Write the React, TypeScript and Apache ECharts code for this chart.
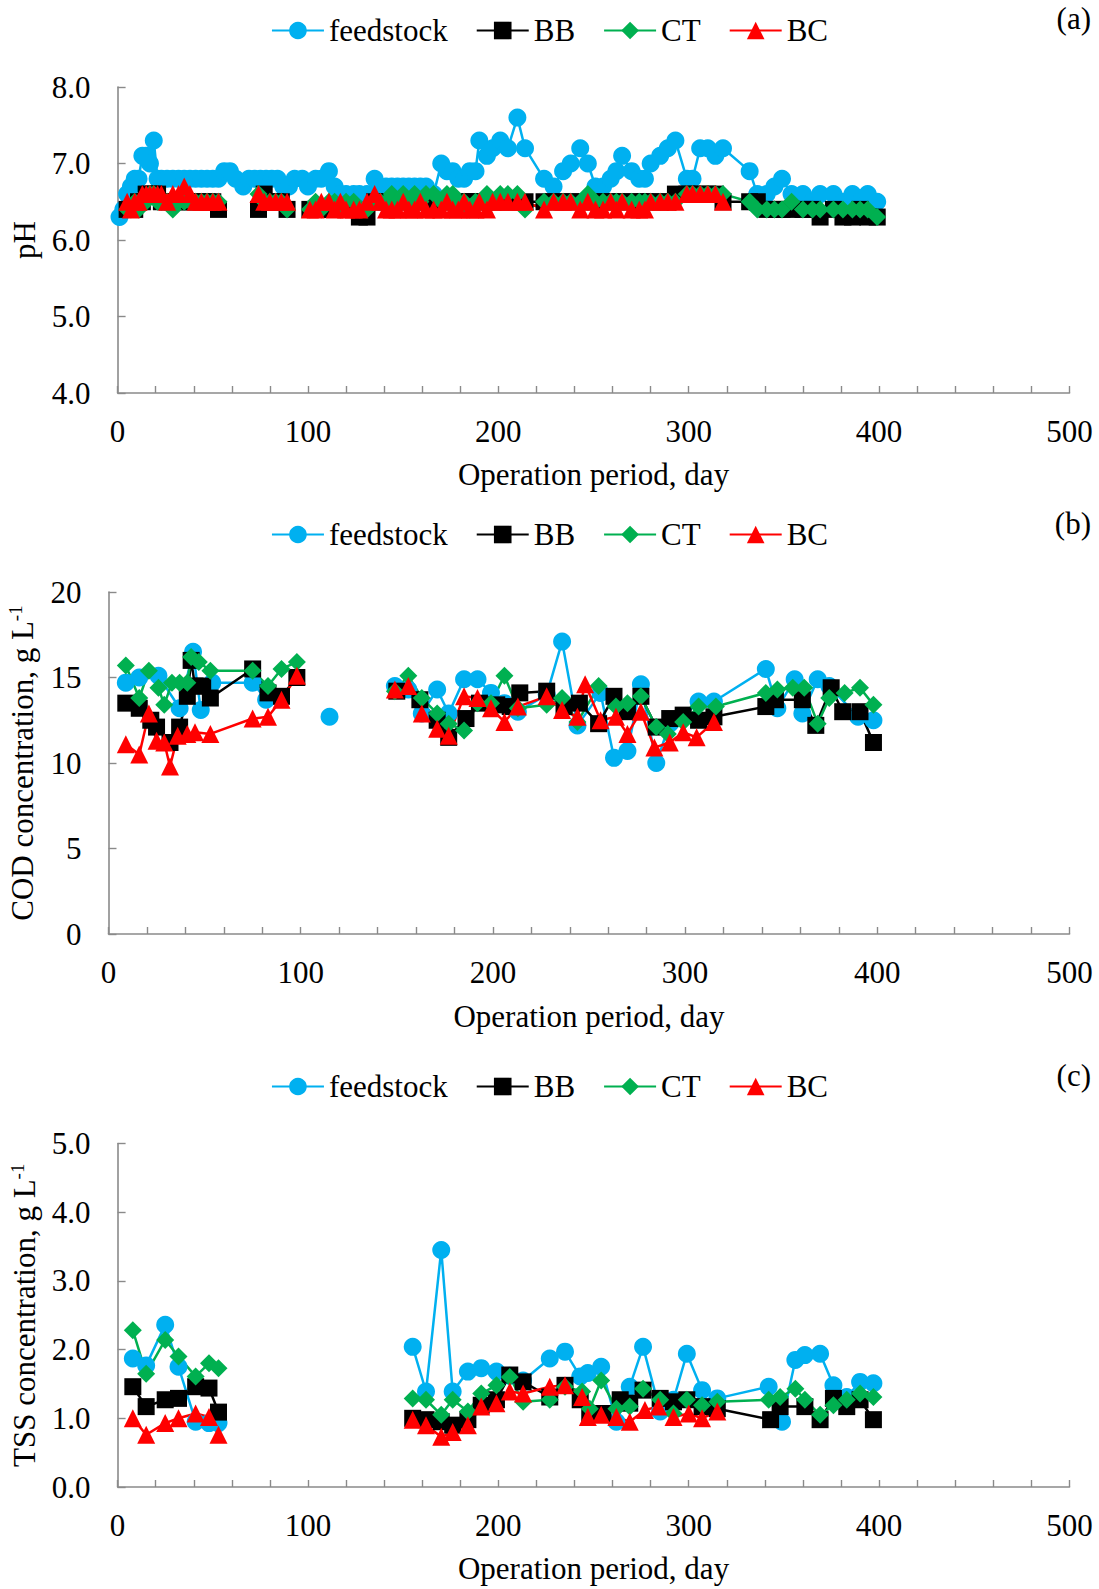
import React, { useEffect, useRef } from 'react';
import * as echarts from 'echarts';

// ---------- DATA ----------
const seriesNames = ['feedstock', 'BB', 'CT', 'BC'];
const xTicks = [0, 100, 200, 300, 400, 500];

// (a) pH  — [day, value]; null = break in line
const phFeed = [[1,6.3],[3,6.4],[5,6.6],[7,6.7],[9,6.8],[11,6.8],[13,7.1],[15,7.1],[17,7.0],[19,7.3],[21,6.8],[23,6.8],[26,6.8],[29,6.8],[32,6.8],[35,6.8],[38,6.8],[41,6.8],[44,6.8],[47,6.8],[50,6.8],[53,6.8],[56,6.9],[59,6.9],[62,6.8],[66,6.7],[69,6.8],[72,6.8],[75,6.8],[78,6.8],[81,6.8],[84,6.8],[87,6.7],[90,6.7],[93,6.8],[97,6.8],[100,6.7],[104,6.8],[107,6.8],[111,6.9],[114,6.7],[117,6.6],[120,6.6],[124,6.6],[127,6.6],[131,6.6],[135,6.8],[138,6.7],[141,6.7],[144,6.7],[147,6.7],[150,6.7],[153,6.7],[156,6.7],[159,6.7],[162,6.7],[166,6.6],[170,7.0],[173,6.9],[176,6.9],[179,6.8],[182,6.8],[185,6.9],[188,6.9],[190,7.3],[194,7.1],[197,7.2],[201,7.3],[205,7.2],[210,7.6],[214,7.2],[224,6.8],[229,6.7],[234,6.9],[238,7.0],[243,7.2],[247,7.0],[251,6.7],[255,6.7],[259,6.8],[262,6.9],[265,7.1],[270,6.9],[274,6.8],[277,6.8],[280,7.0],[285,7.1],[289,7.2],[293,7.3],[299,6.8],[302,6.8],[306,7.2],[310,7.2],[314,7.1],[318,7.2],[332,6.9],[336,6.6],[341,6.6],[345,6.7],[349,6.8],[354,6.6],[360,6.6],[365,6.5],[369,6.6],[376,6.6],[381,6.5],[386,6.6],[390,6.5],[394,6.6],[399,6.5]];
const phBB = [[5,6.4],[7,6.4],[9,6.4],[11,6.5],[13,6.5],[15,6.6],[17,6.6],[19,6.6],[21,6.6],[23,6.5],[26,6.5],[29,6.5],[32,6.5],[35,6.5],[38,6.5],[41,6.5],[44,6.5],[47,6.5],[50,6.5],[53,6.4],[60,null],[74,6.4],[77,6.6],[80,6.5],[83,6.5],[86,6.5],[89,6.4],[95,null],[101,6.4],[104,6.4],[107,6.4],[111,6.4],[114,6.4],[117,6.4],[120,6.4],[124,6.4],[127,6.3],[131,6.3],[135,6.5],[138,6.5],[141,6.5],[144,6.5],[147,6.5],[150,6.5],[153,6.5],[156,6.5],[159,6.5],[162,6.5],[166,6.5],[170,6.5],[173,6.5],[176,6.5],[179,6.5],[182,6.5],[185,6.5],[188,6.5],[190,6.5],[194,6.5],[197,6.5],[201,6.5],[205,6.5],[210,6.5],[214,6.5],[224,6.5],[229,6.5],[234,6.5],[238,6.5],[243,6.5],[247,6.5],[251,6.5],[255,6.5],[259,6.5],[262,6.5],[265,6.5],[270,6.5],[274,6.5],[277,6.5],[280,6.5],[285,6.5],[289,6.5],[293,6.6],[299,6.6],[302,6.6],[306,6.6],[310,6.6],[314,6.6],[318,6.5],[332,6.5],[336,6.5],[341,6.4],[345,6.4],[349,6.4],[354,6.4],[360,6.4],[365,6.4],[369,6.3],[376,6.4],[381,6.3],[386,6.3],[390,6.4],[394,6.3],[399,6.3]];
const phCT = [[5,6.4],[7,6.4],[9,6.5],[11,6.4],[13,6.5],[15,6.5],[17,6.6],[19,6.6],[21,6.5],[23,6.5],[26,6.5],[29,6.4],[32,6.5],[35,6.5],[38,6.5],[41,6.5],[44,6.5],[47,6.5],[50,6.5],[53,6.5],[60,null],[74,6.6],[77,6.5],[80,6.5],[83,6.5],[86,6.5],[89,6.4],[95,null],[101,6.4],[104,6.5],[107,6.4],[111,6.5],[114,6.5],[117,6.4],[120,6.5],[124,6.5],[127,6.4],[131,6.4],[135,6.5],[138,6.5],[141,6.5],[144,6.6],[147,6.5],[150,6.6],[153,6.5],[156,6.6],[159,6.5],[162,6.6],[166,6.6],[170,6.5],[173,6.6],[176,6.6],[179,6.5],[182,6.5],[185,6.4],[188,6.5],[190,6.5],[194,6.6],[197,6.5],[201,6.6],[205,6.6],[210,6.6],[214,6.4],[224,6.5],[229,6.5],[234,6.5],[238,6.5],[243,6.5],[247,6.6],[251,6.5],[255,6.5],[259,6.5],[262,6.5],[265,6.5],[270,6.5],[274,6.5],[277,6.5],[280,6.5],[285,6.5],[289,6.5],[293,6.5],[299,6.6],[302,6.6],[306,6.6],[310,6.6],[314,6.6],[318,6.6],[332,6.5],[336,6.4],[341,6.4],[345,6.4],[349,6.4],[354,6.5],[360,6.4],[365,6.4],[369,6.4],[376,6.4],[381,6.4],[386,6.4],[390,6.4],[394,6.4],[399,6.3]];
const phBC = [[5,6.5],[7,6.4],[9,6.5],[11,6.5],[13,6.6],[15,6.6],[17,6.6],[19,6.6],[21,6.6],[23,6.6],[26,6.5],[29,6.6],[32,6.6],[35,6.7],[38,6.6],[41,6.5],[44,6.5],[47,6.5],[50,6.5],[53,6.5],[60,null],[74,6.6],[77,6.5],[80,6.5],[83,6.5],[86,6.5],[89,6.5],[95,null],[101,6.4],[104,6.4],[107,6.5],[111,6.5],[114,6.4],[117,6.5],[120,6.4],[124,6.4],[127,6.4],[131,6.5],[135,6.6],[138,6.5],[141,6.4],[144,6.4],[147,6.4],[150,6.5],[153,6.4],[156,6.4],[159,6.5],[162,6.4],[166,6.4],[170,6.4],[173,6.5],[176,6.4],[179,6.4],[182,6.5],[185,6.4],[188,6.4],[190,6.5],[194,6.4],[197,6.5],[201,6.5],[205,6.5],[210,6.5],[214,6.5],[224,6.4],[229,6.5],[234,6.5],[238,6.5],[243,6.4],[247,6.5],[251,6.4],[255,6.4],[259,6.5],[262,6.4],[265,6.5],[270,6.4],[274,6.4],[277,6.4],[280,6.5],[285,6.5],[289,6.5],[293,6.5],[299,6.6],[302,6.6],[306,6.6],[310,6.6],[314,6.6],[318,6.5]];

// (b) COD, g/L
const codFeed = [[9,14.7],[16,15.0],[26,15.1],[37,13.2],[44,16.5],[48,13.1],[54,14.7],[75,14.7],[82,13.7],[100,null],[115,12.7],[130,null],[149,14.5],[156,14.3],[163,12.9],[171,14.3],[177,12.9],[185,14.9],[192,14.9],[199,14.1],[206,13.5],[213,13.0],[228,14.0],[236,17.1],[244,12.2],[256,14.1],[263,10.3],[270,10.7],[277,14.6],[285,10.0],[292,12.3],[299,12.7],[307,13.6],[315,13.6],[342,15.5],[348,13.2],[357,14.9],[361,12.9],[369,14.9],[375,14.5],[390,12.7],[398,12.5]];
const codBB = [[9,13.5],[16,13.2],[22,12.5],[25,12.1],[32,11.2],[37,12.1],[41,13.9],[43,16.0],[45,14.5],[49,14.5],[53,13.8],[75,15.5],[83,14.1],[90,13.9],[98,15.0],[120,null],[150,14.2],[162,13.7],[171,12.5],[177,11.5],[186,12.6],[193,13.5],[202,13.4],[209,13.3],[214,14.1],[228,14.2],[237,13.3],[245,13.5],[255,12.3],[263,13.9],[270,13.0],[277,13.9],[285,12.1],[292,12.6],[299,12.8],[307,12.5],[315,12.7],[342,13.3],[347,13.7],[361,13.7],[368,12.2],[376,14.4],[382,13.0],[391,13.0],[398,11.2]];
const codCT = [[9,15.7],[16,13.8],[21,15.4],[26,14.4],[29,13.4],[33,14.7],[37,14.7],[41,14.7],[43,16.2],[47,15.9],[53,15.4],[75,15.4],[83,14.5],[90,15.5],[98,15.9],[120,null],[149,14.2],[156,15.1],[163,13.8],[171,12.9],[177,12.3],[185,11.9],[192,13.5],[199,13.5],[206,15.1],[213,13.2],[228,13.4],[236,13.8],[244,12.4],[255,14.5],[264,13.3],[270,13.5],[277,13.9],[285,12.1],[291,11.7],[299,12.4],[307,13.3],[316,13.3],[342,14.1],[348,14.3],[356,14.4],[362,14.4],[369,12.3],[375,13.8],[383,14.1],[391,14.4],[398,13.4]];
const codBC = [[9,11.1],[16,10.5],[21,12.9],[25,11.3],[29,11.2],[32,9.8],[36,11.6],[41,11.7],[45,11.8],[53,11.7],[75,12.6],[83,12.7],[90,13.7],[98,15.1],[120,null],[149,14.3],[156,14.5],[163,12.9],[171,12.0],[177,11.6],[185,13.9],[192,13.8],[199,13.2],[206,12.4],[213,13.3],[228,13.9],[236,13.1],[244,12.7],[248,14.6],[256,12.5],[264,12.7],[270,11.7],[277,13.0],[284,10.9],[292,11.2],[299,11.8],[306,11.5],[315,12.4]];

// (c) TSS, g/L
const tssFeed = [[8,1.87],[15,1.77],[25,2.36],[32,1.75],[41,0.95],[48,0.93],[53,0.93],[100,null],[155,2.04],[162,1.39],[170,3.45],[176,1.39],[184,1.68],[191,1.73],[199,1.68],[206,1.62],[213,1.55],[227,1.87],[235,1.97],[243,1.61],[247,1.66],[254,1.75],[262,0.95],[269,1.46],[276,2.04],[285,1.10],[292,1.27],[299,1.94],[307,1.41],[315,1.29],[342,1.46],[349,0.95],[356,1.85],[361,1.92],[369,1.94],[376,1.48],[383,1.31],[390,1.53],[397,1.51]];
const tssBB = [[8,1.46],[15,1.17],[25,1.27],[32,1.29],[41,1.46],[48,1.44],[53,1.09],[100,null],[155,1.0],[162,0.98],[170,0.95],[176,0.9],[184,0.98],[191,1.19],[199,1.27],[206,1.63],[213,1.53],[227,1.31],[235,1.48],[243,1.27],[248,1.07],[255,1.07],[264,1.27],[269,1.22],[276,1.41],[285,1.29],[292,1.24],[299,1.27],[307,1.17],[315,1.14],[343,0.98],[348,1.17],[361,1.17],[369,0.98],[376,1.29],[383,1.17],[390,1.27],[397,0.98]];
const tssCT = [[8,2.28],[15,1.65],[25,2.14],[32,1.90],[41,1.61],[48,1.80],[53,1.73],[100,null],[155,1.29],[162,1.27],[170,1.05],[176,1.27],[184,1.10],[191,1.36],[199,1.48],[206,1.60],[213,1.24],[227,1.27],[235,1.46],[244,1.39],[248,1.14],[254,1.55],[262,1.14],[269,1.17],[276,1.43],[285,1.27],[292,1.07],[299,1.27],[307,1.19],[315,1.24],[342,1.27],[348,1.31],[356,1.43],[361,1.27],[369,1.05],[376,1.19],[383,1.27],[390,1.36],[397,1.31]];
const tssBC = [[8,1.0],[15,0.76],[25,0.93],[32,1.0],[41,1.07],[48,1.02],[53,0.76],[100,null],[155,0.98],[162,0.90],[170,0.73],[176,0.80],[184,0.90],[191,1.17],[199,1.22],[206,1.39],[213,1.36],[227,1.46],[235,1.48],[244,1.31],[247,1.02],[254,1.05],[262,1.02],[269,0.95],[277,1.12],[284,1.17],[292,1.02],[300,1.07],[307,1.0],[315,1.10]];

// ---------- STYLE ----------
const FONT = '"Liberation Serif", "Times New Roman", serif';
const FS = 31;
const AX = '#8a8a8a';
const COLORS = ['#00B0F0', '#000000', '#00B050', '#FF0000'];
const SYMBOLS = ['circle', 'rect', 'diamond', 'triangle'];
const SIZES = [18, 17, 18, 18];

const fix = (arr: any[]) => arr.map(([d, v]) => [d, v === null ? '-' : v]);

export default function App() {
  const ref = useRef<HTMLDivElement>(null);
  useEffect(() => {
    if (!ref.current) return;
    const chart = echarts.init(ref.current, null, { renderer: 'svg' });

    const grids = [
      { left: 117.6, right: 29.5, top: 87, height: 306 },
      { left: 108.5, right: 29.5, top: 592, height: 342 },
      { left: 117.6, right: 29.5, top: 1143.5, height: 343.5 },
    ].map((g) => ({ ...g, containLabel: false, outerBoundsMode: 'none' }));
    const legendTops = [10, 514, 1066];
    const xNameGaps = [66, 67, 66];
    const panelData = [
      [phFeed, phBB, phCT, phBC],
      [codFeed, codBB, codCT, codBC],
      [tssFeed, tssBB, tssCT, tssBC],
    ];
    const yDefs = [
      { min: 4, max: 8, interval: 1, dec: 1, name: 'pH', gap: 78, rich: false },
      { min: 0, max: 20, interval: 5, dec: 0, name: '{m|COD concentration, g L}{s|-1}', gap: 71, rich: true },
      { min: 0, max: 5, interval: 1, dec: 1, name: '{m|TSS concentration, g L}{s|-1}', gap: 78, rich: true },
    ];

    const xAxis = grids.map((_, i) => ({
      type: 'value', gridIndex: i, min: xTicks[0], max: xTicks[xTicks.length - 1], interval: 100,
      name: 'Operation period, day', nameLocation: 'middle', nameGap: xNameGaps[i],
      nameTextStyle: { fontFamily: FONT, fontSize: FS, color: '#000' },
      axisLine: { show: true, onZero: false, lineStyle: { color: AX, width: 1.6 } },
      axisTick: { show: true, inside: true, length: 7, lineStyle: { color: AX, width: 1.4 } },
      minorTick: { show: true, splitNumber: 5, length: 7, lineStyle: { color: AX, width: 1.4 } },
      splitLine: { show: false },
      minorSplitLine: { show: false },
      axisLabel: { fontFamily: FONT, fontSize: FS, color: '#000', margin: 23 },
    }));

    const yAxis = yDefs.map((y, i) => ({
      type: 'value', gridIndex: i, min: y.min, max: y.max, interval: y.interval,
      name: y.name, nameLocation: 'middle', nameGap: y.gap, nameRotate: 90,
      nameTextStyle: {
        fontFamily: FONT, fontSize: FS, color: '#000',
        rich: {
          m: { fontFamily: FONT, fontSize: FS, color: '#000', lineHeight: 34, verticalAlign: 'bottom' },
          s: { fontFamily: FONT, fontSize: 19, color: '#000', lineHeight: 34, verticalAlign: 'top', padding: [2, 0, 0, 0] },
        },
      },
      axisLine: { show: true, lineStyle: { color: AX, width: 1.6 } },
      axisTick: { show: true, inside: true, length: 8, lineStyle: { color: AX, width: 1.4 } },
      splitLine: { show: false },
      axisLabel: {
        fontFamily: FONT, fontSize: FS, color: '#000', margin: 27,
        formatter: (v: number) => v.toFixed(y.dec),
      },
    }));

    const series: any[] = [];
    panelData.forEach((sets, p) => {
      sets.forEach((d, k) => {
        series.push({
          type: 'line', name: seriesNames[k], xAxisIndex: p, yAxisIndex: p,
          data: fix(d), connectNulls: false,
          symbol: SYMBOLS[k], symbolSize: SIZES[k], showSymbol: true,
          lineStyle: { color: COLORS[k], width: 2.5 },
          itemStyle: { color: COLORS[k] },
          emphasis: { disabled: true },
          clip: false,
        });
      });
    });

    const legend = legendTops.map((t) => ({
      top: t, left: 'center', itemWidth: 52, itemHeight: 22, itemGap: 28,
      textStyle: { fontFamily: FONT, fontSize: FS, color: '#000', padding: [0, 0, 0, 0] },
      data: seriesNames,
      selectedMode: false,
    }));

    const labels = ['(a)', '(b)', '(c)'];
    const labelY = [18, 523, 1075];
    const graphic = labels.map((t, i) => ({
      type: 'text', x: 1091, y: labelY[i],
      style: { text: t, font: `${FS}px ${FONT}`, fill: '#000', align: 'right', verticalAlign: 'middle', textAlign: 'right', textVerticalAlign: 'middle' },
    }));

    chart.setOption({
      animation: false,
      backgroundColor: '#ffffff',
      grid: grids,
      xAxis, yAxis, series, legend, graphic,
    });
    return () => chart.dispose();
  }, []);
  return <div ref={ref} style={{ position: 'absolute', left: 0, top: 0, width: 1099, height: 1589 }} />;
}
